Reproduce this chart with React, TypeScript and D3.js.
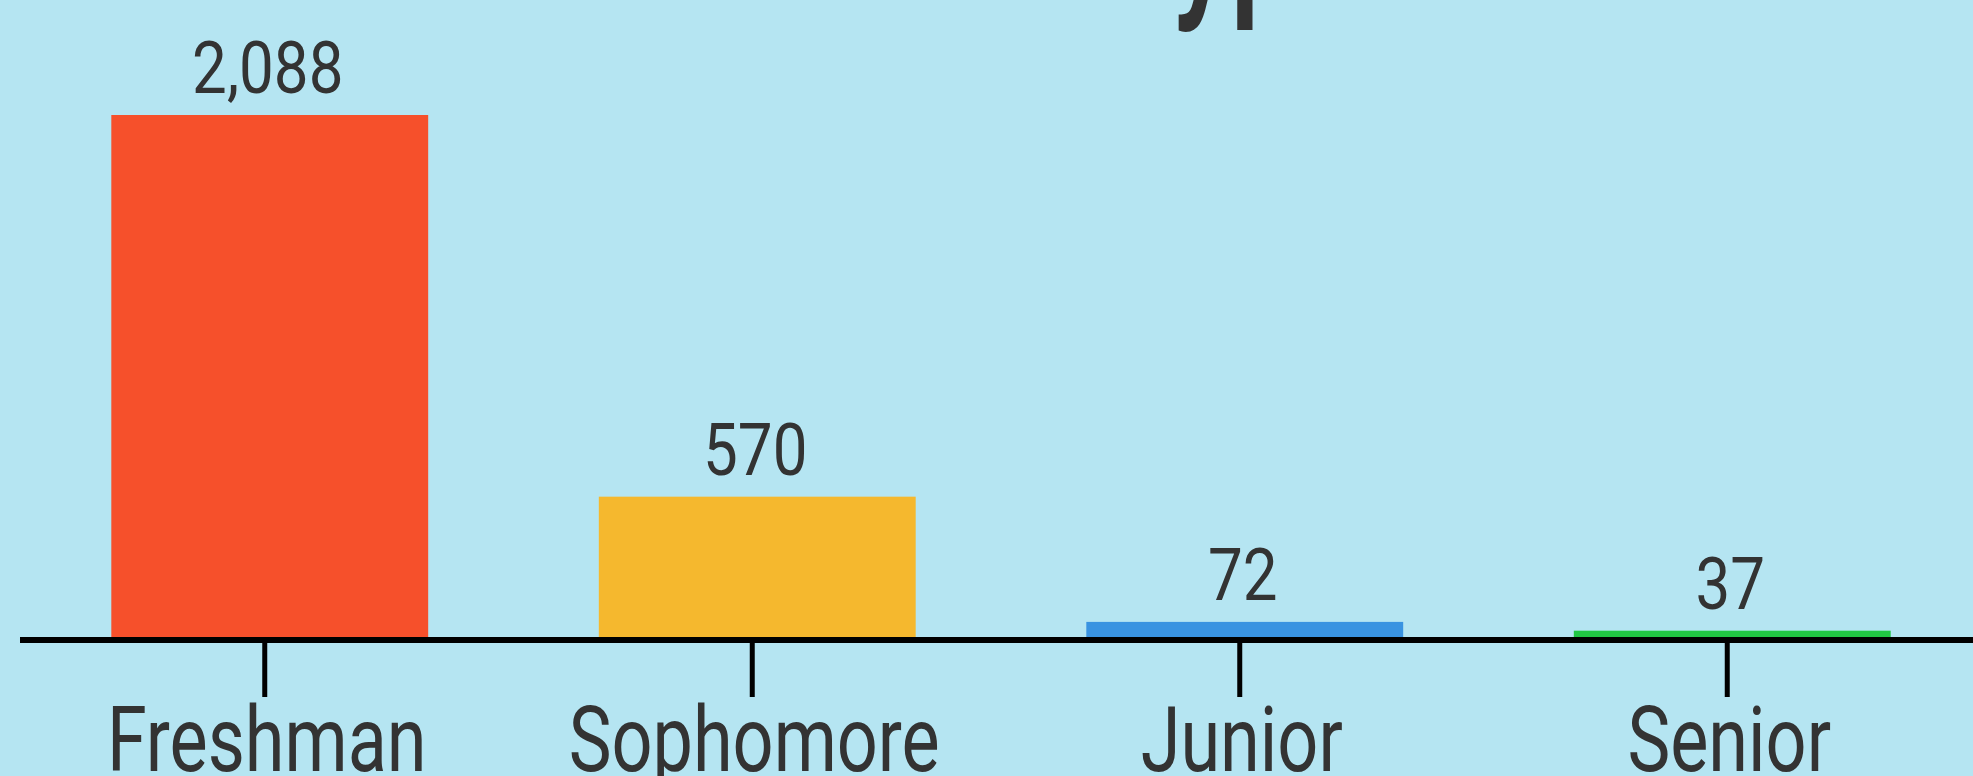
import React from "react";
import * as d3 from "d3";

// chart data
const categories = ["Freshman", "Sophomore", "Junior", "Senior"];
const counts = [2088, 570, 72, 37];
const barColors = ["#F6502B", "#F5B82E", "#3993E1", "#21C643"];
const titleText = "Enrollment Type";

const W = 1973;
const H = 776;
const baseY = 640;
const fontFam = "Roboto, 'Noto Sans', sans-serif";

const App = () => {
  const x = d3
    .scaleBand()
    .domain(categories)
    .range([26, 1976])
    .paddingInner(0.35)
    .paddingOuter(0.175);

  const y = d3.scaleLinear().domain([0, 2088]).range([baseY, 115]);
  const fmt = d3.format(",");

  return (
    <svg
      width={W}
      height={H}
      style={{ position: "absolute", left: 0, top: 0, background: "#B5E5F2" }}
    >
      <rect x={0} y={0} width={W} height={H} fill="#B5E5F2" />

      {/* title, only descenders peek in at the top */}
      <g transform={`translate(1360, -4) scale(0.7,1)`}>
        <text
          textAnchor="end"
          fontFamily={fontFam}
          fontWeight={600}
          fontSize={168}
          fill="#333333"
        >
          {titleText}
        </text>
      </g>

      {/* bars */}
      {categories.map((c, i) => (
        <rect
          key={c}
          x={x(c)}
          y={y(counts[i])}
          width={x.bandwidth()}
          height={baseY - y(counts[i])}
          fill={barColors[i]}
        />
      ))}

      {/* value labels */}
      {categories.map((c, i) => {
        const cx = (x(c) as number) + x.bandwidth() / 2;
        return (
          <g key={c} transform={`translate(${cx - 2}, ${y(counts[i]) - 22}) scale(0.86,1)`}>
            <text
              textAnchor="middle"
              fontFamily={fontFam}
              fontSize={72}
              fill="#333333"
            >
              {fmt(counts[i])}
            </text>
          </g>
        );
      })}

      {/* axis */}
      <line x1={20} x2={W} y1={baseY} y2={baseY} stroke="#000" strokeWidth={6} />
      {categories.map((c) => {
        const cx = (x(c) as number) + x.bandwidth() / 2;
        return (
          <g key={c}>
            <line
              x1={cx - 5}
              x2={cx - 5}
              y1={baseY}
              y2={697}
              stroke="#000"
              strokeWidth={5}
            />
            <g transform={`translate(${cx - 3}, 771) scale(0.8,1)`}>
              <text
                textAnchor="middle"
                fontFamily={fontFam}
                fontSize={90}
                fill="#333333"
              >
                {c}
              </text>
            </g>
          </g>
        );
      })}
    </svg>
  );
};

export default App;
